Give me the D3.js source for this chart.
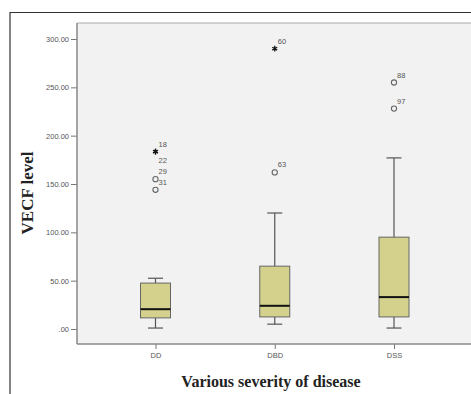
<!DOCTYPE html>
<html>
<head>
<meta charset="utf-8">
<script src="https://cdn.jsdelivr.net/npm/d3@7"></script>
<style>
  html, body { margin: 0; background: #fff; overflow: hidden; }
  svg { display: block; }
</style>
</head>
<body>
<div id="chart"></div>
<script>
// groups and box statistics
var groups = ["DD", "DBD", "DSS"];
var whiskerLow = [1, 5, 1];
var q1 = [11.5, 12.5, 12.5];
var median = [20.5, 24, 33];
var q3 = [47.5, 65, 95];
var whiskerHigh = [52.5, 120, 177];

// outliers: group, value, case label, kind
var outGroup = ["DD", "DD", "DD", "DD", "DBD", "DBD", "DSS", "DSS"];
var outValue = [183.5, 183.5, 155, 144, 290, 162, 255, 228];
var outLabel = ["18", "22", "29", "31", "60", "63", "88", "97"];
var outKind = ["extreme", "extreme", "outlier", "outlier", "extreme", "outlier", "outlier", "outlier"];

var yTicks = [0, 50, 100, 150, 200, 250, 300];

// set the dimensions of the page and the plot area
var W = 471, H = 394;
var plot = { left: 77, top: 23, right: 471, bottom: 344 };

var svg = d3.select("#chart").append("svg")
  .attr("width", W)
  .attr("height", H);

// outer frame
svg.append("path")
  .attr("d", "M10," + H + "V12.5H" + W)
  .attr("fill", "none")
  .attr("stroke", "#333")
  .attr("stroke-width", 1.2);

// plot background
svg.append("rect")
  .attr("x", plot.left).attr("y", plot.top)
  .attr("width", plot.right - plot.left)
  .attr("height", plot.bottom - plot.top)
  .attr("fill", "#f2f2f2");

svg.append("line")
  .attr("x1", plot.left).attr("x2", plot.right)
  .attr("y1", plot.top).attr("y2", plot.top)
  .attr("stroke", "#aaa").attr("stroke-width", 1.2);

// set the ranges
var y = d3.scaleLinear().domain([0, 300]).range([329, 39]);
var x = d3.scalePoint().domain(groups).range([155.5, 394]);

// Y axis
var yAxis = svg.append("g")
  .attr("transform", "translate(" + plot.left + ",0)")
  .call(d3.axisLeft(y).tickValues(yTicks).tickSize(6).tickPadding(2)
    .tickFormat(function (d) { return d === 0 ? ".00" : d3.format(".2f")(d); }));
yAxis.select(".domain").remove();
yAxis.append("line")
  .attr("y1", plot.top).attr("y2", plot.bottom)
  .attr("stroke", "#888").attr("stroke-width", 1.5);

// X axis
var xAxis = svg.append("g")
  .attr("transform", "translate(0," + plot.bottom + ")")
  .call(d3.axisBottom(x).tickSize(5).tickPadding(4));
xAxis.select(".domain").remove();
xAxis.append("line")
  .attr("x1", plot.left).attr("x2", plot.right)
  .attr("stroke", "#888").attr("stroke-width", 1.5);

svg.selectAll(".tick line").attr("stroke", "#777");
svg.selectAll(".tick text")
  .attr("fill", "#555")
  .style("font-family", "Liberation Sans, Arial, sans-serif")
  .style("font-size", "7.5px");

// boxes
var boxW = 30, capW = 15;
var boxes = svg.append("g");
groups.forEach(function (g, i) {
  var cx = x(g);
  var b = boxes.append("g");
  // whiskers
  b.append("line")
    .attr("x1", cx).attr("x2", cx)
    .attr("y1", y(q3[i])).attr("y2", y(whiskerHigh[i]))
    .attr("stroke", "#555").attr("stroke-width", 1.2);
  b.append("line")
    .attr("x1", cx).attr("x2", cx)
    .attr("y1", y(q1[i])).attr("y2", y(whiskerLow[i]))
    .attr("stroke", "#555").attr("stroke-width", 1.2);
  [whiskerHigh[i], whiskerLow[i]].forEach(function (v) {
    b.append("line")
      .attr("x1", cx - capW / 2).attr("x2", cx + capW / 2)
      .attr("y1", y(v)).attr("y2", y(v))
      .attr("stroke", "#555").attr("stroke-width", 1.2);
  });
  b.append("rect")
    .attr("x", cx - boxW / 2).attr("width", boxW)
    .attr("y", y(q3[i])).attr("height", y(q1[i]) - y(q3[i]))
    .attr("fill", "#d3d18c")
    .attr("stroke", "#666").attr("stroke-width", 1);
  b.append("line")
    .attr("x1", cx - boxW / 2).attr("x2", cx + boxW / 2)
    .attr("y1", y(median[i])).attr("y2", y(median[i]))
    .attr("stroke", "#111").attr("stroke-width", 2);
});

// outliers and extremes
var star = d3.symbol().type(d3.symbolAsterisk).size(22);
var marks = svg.append("g");
outValue.forEach(function (v, i) {
  var cx = x(outGroup[i]), cy = y(v);
  if (outKind[i] === "extreme") {
    marks.append("path")
      .attr("d", star)
      .attr("transform", "translate(" + cx + "," + cy + ")")
      .attr("stroke", "#111").attr("stroke-width", 1.3);
  } else {
    marks.append("circle")
      .attr("cx", cx).attr("cy", cy).attr("r", 2.6)
      .attr("fill", "none")
      .attr("stroke", "#666").attr("stroke-width", 1.1);
  }
  // a repeated value puts its label under the mark
  var dup = i > 0 && outGroup[i - 1] === outGroup[i] && outValue[i - 1] === v;
  marks.append("text")
    .attr("x", cx + 3)
    .attr("y", dup ? cy + 11 : cy - 5)
    .attr("fill", "#555")
    .style("font-family", "Liberation Sans, Arial, sans-serif")
    .style("font-size", "7.5px")
    .text(outLabel[i]);
});

// axis titles
svg.append("text")
  .attr("x", 271).attr("y", 387)
  .attr("text-anchor", "middle")
  .style("font-family", "Liberation Serif, Times New Roman, serif")
  .style("font-weight", "bold")
  .style("font-size", "16px")
  .attr("fill", "#222")
  .text("Various severity of disease");

svg.append("text")
  .attr("transform", "translate(32.5,193) rotate(-90)")
  .attr("text-anchor", "middle")
  .style("font-family", "Liberation Serif, Times New Roman, serif")
  .style("font-weight", "bold")
  .style("font-size", "17px")
  .attr("fill", "#222")
  .text("VECF level");
</script>
</body>
</html>
